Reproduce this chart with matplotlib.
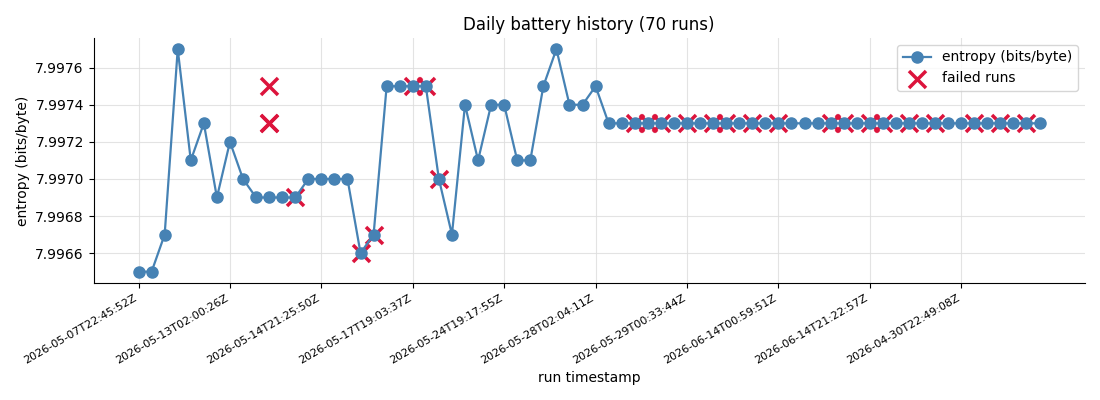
import matplotlib
matplotlib.use("Agg")
import matplotlib.pyplot as plt
import matplotlib.ticker as mticker
import numpy as np

entropy = [
    7.99650, 7.99650, 7.99670, 7.99770, 7.99710, 7.99730, 7.99690, 7.99720,
    7.99700, 7.99690, 7.99690, 7.99690, 7.99690, 7.99700, 7.99700, 7.99700,
    7.99700, 7.99660, 7.99670, 7.99750, 7.99750, 7.99750, 7.99750, 7.99700,
    7.99670, 7.99740, 7.99710, 7.99740, 7.99740, 7.99710, 7.99710, 7.99750,
    7.99770, 7.99740, 7.99740, 7.99750, 7.99730, 7.99730,
    7.99730, 7.99730, 7.99730, 7.99730, 7.99730, 7.99730, 7.99730, 7.99730,
    7.99730, 7.99730, 7.99730, 7.99730, 7.99730, 7.99730, 7.99730, 7.99730,
    7.99730, 7.99730, 7.99730, 7.99730, 7.99730, 7.99730, 7.99730, 7.99730,
    7.99730, 7.99730, 7.99730, 7.99730, 7.99730, 7.99730, 7.99730, 7.99730,
]

failed_idx = [10, 10, 10, 12, 17, 18, 21, 22, 23, 38, 39, 40, 42, 44, 45, 47,
              49, 53, 54, 56, 57, 59, 61, 64, 66, 68]
failed_val = [7.99750, 7.99730, 7.99730, 7.99690, 7.99660, 7.99670, 7.99750,
              7.99750, 7.99700, 7.99730, 7.99730, 7.99730, 7.99730, 7.99730,
              7.99730, 7.99730, 7.99730, 7.99730, 7.99730, 7.99730, 7.99730,
              7.99730, 7.99730, 7.99730, 7.99730, 7.99730]

tick_labels = [
    "2026-05-07T22:45:52Z", "2026-05-13T02:00:26Z", "2026-05-14T21:25:50Z",
    "2026-05-17T19:03:37Z", "2026-05-24T19:17:55Z", "2026-05-28T02:04:11Z",
    "2026-05-29T00:33:44Z", "2026-06-14T00:59:51Z", "2026-06-14T21:22:57Z",
    "2026-04-30T22:49:08Z",
]

x = np.arange(len(entropy))

fig, ax = plt.subplots(figsize=(11, 4), dpi=100)
fig.subplots_adjust(left=0.085, right=0.986, top=0.905, bottom=0.293)

ax.plot(x, entropy, color="#4682B4", marker="o", markersize=8, linewidth=1.6,
        label="entropy (bits/byte)", zorder=3)
ax.scatter(failed_idx, failed_val, marker="x", s=150, linewidths=2.5,
           color="#DC143C", label="failed runs", zorder=2)

ax.set_xticks(np.arange(0, len(entropy), 7))
ax.set_xticklabels(tick_labels, rotation=30, ha="right", fontsize=8)
ax.set_xlabel("run timestamp")
ax.set_ylabel("entropy (bits/byte)")
ax.set_title("Daily battery history (70 runs)")
ax.yaxis.set_major_formatter(mticker.FormatStrFormatter("%.4f"))
ax.grid(True, color="#dddddd", linewidth=0.8, alpha=0.8)
ax.set_axisbelow(True)
ax.spines["top"].set_visible(False)
ax.spines["right"].set_visible(False)
ax.legend(loc="upper right")

fig.savefig("out.png", dpi=100)
